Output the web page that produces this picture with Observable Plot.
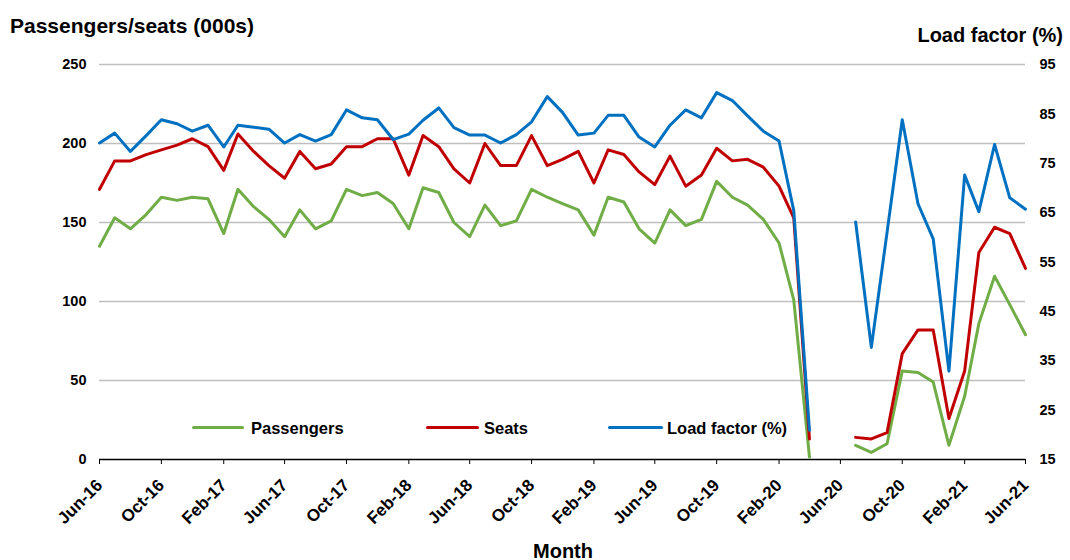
<!DOCTYPE html>
<html>
<head>
<meta charset="utf-8">
<script src="https://cdn.jsdelivr.net/npm/d3@7"></script>
<script src="https://cdn.jsdelivr.net/npm/@observablehq/plot@0.6"></script>
<style>
  html, body { margin: 0; padding: 0; background: #fff; }
  #wrap { position: relative; width: 1070px; height: 560px; font-family: "Liberation Sans", Arial, sans-serif; color: #000; }
  .t { position: absolute; font-weight: bold; line-height: 1; white-space: nowrap; }
  .sw { position: absolute; height: 3px; border-radius: 2px; }
</style>
</head>
<body>
<div id="wrap">
  <div class="t" style="left:10px; top:15px; font-size:21px;">Passengers/seats (000s)</div>
  <div class="t" style="right:7px; top:25px; font-size:20px;">Load factor (%)</div>
  <div class="t" style="left:0; width:1126px; text-align:center; top:541px; font-size:20px;">Month</div>
  <div id="chart"></div>
  <div id="legend"></div>
</div>
<script>
// ---- data ----
const months = [
  "Jun-16","Jul-16","Aug-16","Sep-16","Oct-16","Nov-16","Dec-16",
  "Jan-17","Feb-17","Mar-17","Apr-17","May-17","Jun-17","Jul-17","Aug-17","Sep-17","Oct-17","Nov-17","Dec-17",
  "Jan-18","Feb-18","Mar-18","Apr-18","May-18","Jun-18","Jul-18","Aug-18","Sep-18","Oct-18","Nov-18","Dec-18",
  "Jan-19","Feb-19","Mar-19","Apr-19","May-19","Jun-19","Jul-19","Aug-19","Sep-19","Oct-19","Nov-19","Dec-19",
  "Jan-20","Feb-20","Mar-20","Apr-20","May-20","Jun-20","Jul-20","Aug-20","Sep-20","Oct-20","Nov-20","Dec-20",
  "Jan-21","Feb-21","Mar-21","Apr-21","May-21","Jun-21"
];
const passengers = [
  135,153,146,155,166,164,166,
  165,143,171,160,152,141,158,146,151,171,167,169,
  162,146,172,169,150,141,161,148,151,171,166,162,
  158,142,166,163,146,137,158,148,152,176,166,161,
  152,137,101,1.5,null,null,9,4.5,10,56,55,49,
  9,40,86,116,98,79
];
const seats = [
  171,189,189,193,196,199,203,
  198,183,206,195,186,178,195,184,187,198,198,203,
  203,180,205,198,184,175,200,186,186,205,186,190,
  195,175,196,193,182,174,192,173,180,197,189,190,
  185,173,153,13,null,null,14,13,17,67,82,82,
  26,56,131,147,143,121
];
const loadFactor = [
  79.1,81.1,77.4,80.6,83.8,83.0,81.5,
  82.7,78.3,82.7,82.3,81.9,79.1,80.8,79.5,80.8,85.8,84.2,83.8,
  79.8,80.9,83.7,86.2,82.2,80.7,80.7,79.1,80.8,83.4,88.5,85.3,
  80.7,81.1,84.7,84.7,80.3,78.3,82.7,85.8,84.2,89.3,87.7,84.6,
  81.5,79.5,65.4,20.9,null,null,63.1,37.7,61,83.8,66.8,59.7,
  32.9,72.6,65.2,78.8,68.0,65.7
];
const leftTicks = [0, 50, 100, 150, 200, 250];
const rightTicks = [15, 25, 35, 45, 55, 65, 75, 85, 95];
const xTickLabels = ["Jun-16","Oct-16","Feb-17","Jun-17","Oct-17","Feb-18","Jun-18","Oct-18",
  "Feb-19","Jun-19","Oct-19","Feb-20","Jun-20","Oct-20","Feb-21","Jun-21"];
const seriesNames = ["Passengers", "Seats", "Load factor (%)"];
const seriesColors = ["#70AD47", "#C00000", "#0070C0"];

// ---- helpers ----
const parseM = d3.utcParse("%b-%y");
const fmtM = d3.utcFormat("%b-%y");
const leftDomain = [0, 250], rightDomain = [15, 95];
const toLeft = v => v == null ? null :
  leftDomain[0] + (v - rightDomain[0]) * (leftDomain[1] - leftDomain[0]) / (rightDomain[1] - rightDomain[0]);
const toRight = v => rightDomain[0] + (v - leftDomain[0]) * (rightDomain[1] - rightDomain[0]) / (leftDomain[1] - leftDomain[0]);

const rows = months.map((m, i) => ({
  date: parseM(m),
  passengers: passengers[i],
  seats: seats[i],
  lf: toLeft(loadFactor[i])
}));

const tickFont = {fontSize: 14.5, fontWeight: "bold"};

const chart = Plot.plot({
  width: 1070,
  height: 560,
  marginLeft: 99,
  marginRight: 45,
  marginTop: 64,
  marginBottom: 101,
  style: {fontFamily: '"Liberation Sans", Arial, sans-serif', color: "#000", background: "transparent"},
  x: {type: "utc", domain: [parseM(months[0]), parseM(months[months.length - 1])]},
  y: {domain: leftDomain},
  marks: [
    Plot.gridY(leftTicks.filter(d => d > 0), {stroke: "#bfbfbf", strokeOpacity: 1, strokeWidth: 1.5}),
    Plot.axisY(leftTicks, {tickSize: 0, tickPadding: 13, label: null, ...tickFont}),
    Plot.axisY(rightTicks.map(toLeft), {anchor: "right", tickSize: 0, tickPadding: 14, label: null,
      tickFormat: d => String(Math.round(toRight(d))), ...tickFont}),
    Plot.ruleY([0], {stroke: "#000", strokeWidth: 1.3}),
    Plot.axisX(xTickLabels.map(parseM), {tickSize: 5, tickPadding: 18, tickRotate: -45, label: null,
      tickFormat: fmtM, stroke: "#000", fontSize: 17, fontWeight: "bold"}),
    Plot.line(rows, {x: "date", y: "passengers", stroke: seriesColors[0], strokeWidth: 3, strokeLinejoin: "round"}),
    Plot.line(rows, {x: "date", y: "seats", stroke: seriesColors[1], strokeWidth: 3, strokeLinejoin: "round"}),
    Plot.line(rows, {x: "date", y: "lf", stroke: seriesColors[2], strokeWidth: 3, strokeLinejoin: "round"})
  ]
});
document.getElementById("chart").appendChild(chart);

// ---- legend (inside plot area) ----
const legendPos = [
  {sw: 192, sww: 52, tx: 251},
  {sw: 426, sww: 53, tx: 484},
  {sw: 608, sww: 55, tx: 667}
];
const legend = document.getElementById("legend");
seriesNames.forEach((name, i) => {
  const s = document.createElement("div");
  s.className = "sw";
  s.style.left = legendPos[i].sw + "px";
  s.style.width = legendPos[i].sww + "px";
  s.style.top = "426px";
  s.style.background = seriesColors[i];
  legend.appendChild(s);
  const t = document.createElement("div");
  t.className = "t";
  t.style.left = legendPos[i].tx + "px";
  t.style.top = "420px";
  t.style.fontSize = "16.5px";
  t.textContent = name;
  legend.appendChild(t);
});
</script>
</body>
</html>
